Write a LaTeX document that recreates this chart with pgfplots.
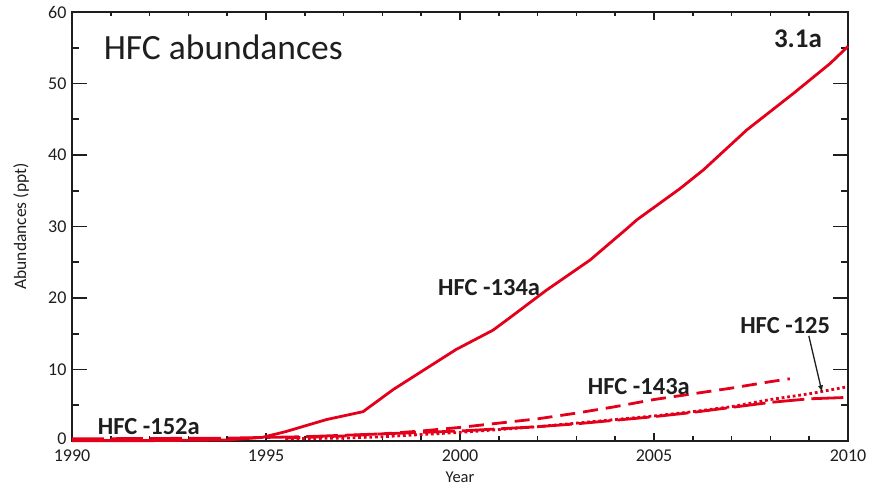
\documentclass[border=0pt]{standalone}
\usepackage{pgfplots}
\pgfplotsset{compat=1.18}
\usepackage{fontspec}
\setmainfont{Carlito}
\definecolor{hfcred}{RGB}{228,0,27}
\definecolor{axgray}{RGB}{30,30,30}
\newcommand{\tl}[1]{{\fontsize{18}{21}\selectfont #1}}
\pgfplotsset{
  hfcbase/.style={
    scale only axis,
    width=776pt, height=429pt,
    xmin=1990, xmax=2010, ymin=0, ymax=60,
    tick align=inside,
    tick style={axgray, line width=1.6pt},
    axis line style={axgray, line width=2.8pt},
    tick label style={text=axgray},
    label style={text=axgray},
    clip=false,
  }
}
\begin{document}
\begin{tikzpicture}
\useasboundingbox (-72pt,-48pt) rectangle (797pt,441pt);
% y ticks (long)
\begin{axis}[hfcbase,
  xtick=\empty,
  ytick={0,10,20,30,40,50,60},
  yticklabels={\raisebox{4pt}{\tl{0}},\tl{10},\tl{20},\tl{30},\tl{40},\tl{50},\tl{60}},
  minor ytick={5,15,25,35,45,55},
  major tick length=15pt,
  minor tick length=7pt,
  yticklabel style={xshift=-2pt},
]
\end{axis}
\begin{axis}[hfcbase,
  ytick=\empty,
  xtick={1990,1995,2000,2005,2010},
  xticklabels={\tl{1990},\tl{1995},\tl{2000},\tl{2005},\tl{2010}},
  minor xtick={1991,1992,1993,1994,1996,1997,1998,1999,2001,2002,2003,2004,2006,2007,2008,2009},
  major tick length=8pt,
  minor tick length=4.5pt,
  xticklabel style={yshift=-5pt},
  xlabel={\fontsize{16.5}{19}\selectfont Year},
  xlabel style={at={(axis description cs:0.5,-0.084)}, anchor=center},
]
% HFC-134a
\addplot[hfcred, line width=2.8pt, line join=round] coordinates {
(1990,0.05) (1992,0.05) (1994,0.15) (1994.9,0.5) (1995.5,1.3) (1996.56,3.0) (1997.5,4.1)
(1998.28,7.2) (1999.06,9.9) (1999.9,12.8) (2000.85,15.5) (2001.2,16.9) (2002.23,21.1)
(2003.35,25.3) (2004.3,29.7) (2004.55,30.9) (2005.67,35.3) (2006.27,37.9) (2007.39,43.5)
(2008.59,48.6) (2009.54,52.8) (2010,55.2)};
% HFC-152a (long dash)
\addplot[hfcred, line width=2.8pt, dash pattern=on 32pt off 7pt] coordinates {
(1990,0.3) (1992,0.35) (1994,0.4) (1995,0.5) (1996,0.6) (1997,0.8) (1998,1.0) (1999,1.2)
(2000,1.4) (2001,1.7) (2002,2.0) (2003,2.4) (2004,2.9) (2005,3.4) (2006,4.0) (2007,4.7)
(2008,5.4) (2009,5.9) (2010,6.1)};
% HFC-143a (dash)
\addplot[hfcred, line width=2.8pt, dash pattern=on 15pt off 8pt] coordinates {
(1995.5,0.4) (1996,0.5) (1997,0.7) (1998,1.0) (1999,1.4) (2000,1.9) (2001,2.5) (2002,3.1)
(2003,3.9) (2004,4.8) (2005,5.8) (2006,6.6) (2007,7.4) (2008,8.3) (2008.5,8.7)};
% HFC-125 (dotted)
\addplot[hfcred, line width=2.8pt, dash pattern=on 2.8pt off 2.8pt] coordinates {
(1995.5,0.3) (1996,0.35) (1997,0.4) (1998,0.6) (1999,0.9) (2000,1.2) (2001,1.6) (2002,2.0)
(2003,2.5) (2004,3.0) (2005,3.5) (2006,4.1) (2007,4.8) (2008,5.8) (2009,6.6) (2010,7.6)};

\node[font=\fontsize{17.5}{20}\selectfont, text=axgray, rotate=90, anchor=center] at (axis description cs:-0.0657,0.5) {Abundances (ppt)};
\node[font=\fontsize{35.5}{40}\selectfont, text=axgray, anchor=center] at (axis cs:1993.9,55.0) {HFC abundances};
\node[font=\bfseries\fontsize{27}{30}\selectfont, text=axgray] at (axis cs:2008.71,56.2) {3.1a};
\node[font=\bfseries\fontsize{24.5}{28}\selectfont, text=axgray] at (axis cs:2000.75,21.5) {HFC -134a};
\node[font=\bfseries\fontsize{24.5}{28}\selectfont, text=axgray] at (axis cs:2008.38,16.2) {HFC -125};
\node[font=\bfseries\fontsize{24.5}{28}\selectfont, text=axgray] at (axis cs:2004.61,7.55) {HFC -143a};
\node[font=\bfseries\fontsize{24.5}{28}\selectfont, text=axgray] at (axis cs:1991.98,2.0) {HFC -152a};
\draw[-latex, line width=1.3pt, axgray] (axis cs:2008.99,14.7) -- (axis cs:2009.33,6.85);
\end{axis}
\end{tikzpicture}
\end{document}
